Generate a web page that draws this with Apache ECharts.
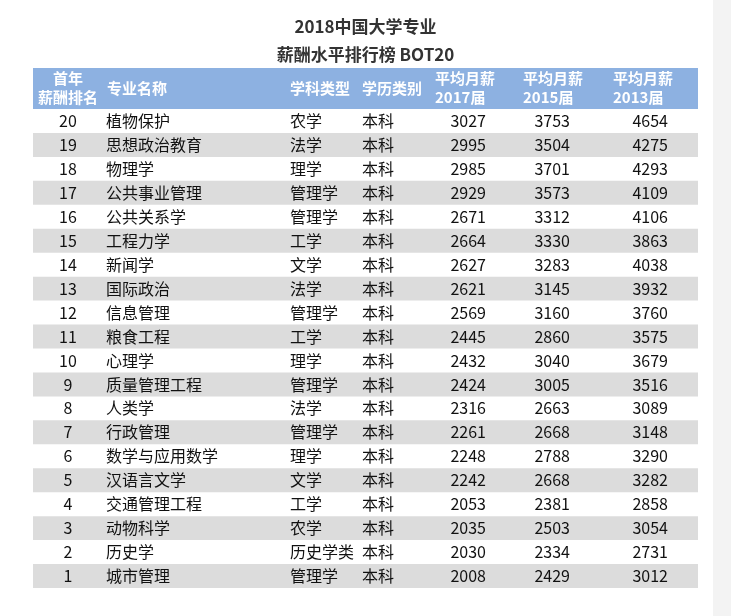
<!DOCTYPE html>
<html><head><meta charset="utf-8">
<script src="https://cdn.jsdelivr.net/npm/echarts@6/dist/echarts.min.js"></script>
<style>html,body{margin:0;padding:0;background:#fff}#c{width:731px;height:616px}</style>
</head><body><div id="c"></div>
<script>
const ranks = [20,19,18,17,16,15,14,13,12,11,10,9,8,7,6,5,4,3,2,1];
const majors = ['植物保护','思想政治教育','物理学','公共事业管理','公共关系学','工程力学','新闻学','国际政治','信息管理','粮食工程','心理学','质量管理工程','人类学','行政管理','数学与应用数学','汉语言文学','交通管理工程','动物科学','历史学','城市管理'];
const fields = ['农学','法学','理学','管理学','管理学','工学','文学','法学','管理学','工学','理学','管理学','法学','管理学','理学','文学','工学','农学','历史学类','管理学'];
const degrees = ['本科','本科','本科','本科','本科','本科','本科','本科','本科','本科','本科','本科','本科','本科','本科','本科','本科','本科','本科','本科'];
const pay2017 = [3027,2995,2985,2929,2671,2664,2627,2621,2569,2445,2432,2424,2316,2261,2248,2242,2053,2035,2030,2008];
const pay2015 = [3753,3504,3701,3573,3312,3330,3283,3145,3160,2860,3040,3005,2663,2668,2788,2668,2381,2503,2334,2429];
const pay2013 = [4654,4275,4293,4109,4106,3863,4038,3932,3760,3575,3679,3516,3089,3148,3290,3282,2858,3054,2731,3012];
const headers = ['首年\n薪酬排名','专业名称','学科类型','学历类别','平均月薪\n2017届','平均月薪\n2015届','平均月薪\n2013届'];

const F = '"Noto Sans CJK SC", sans-serif';
const chart = echarts.init(document.getElementById('c'));
const hdrX = [68,107,290,362,435,523,613];
const hdrAlign = ['center','left','left','left','left','left','left'];
chart.setOption({
  animation:false,
  title:{text:'2018中国大学专业\n薪酬水平排行榜 BOT20',left:'center',top:8,
    textStyle:{fontFamily:F,fontSize:17,fontWeight:'bold',color:'#333',lineHeight:28}},
  graphic:[
    {type:'rect',shape:{x:713,y:0,width:18,height:616},style:{fill:'#f3f3f3'},silent:true},
    {type:'rect',shape:{x:33,y:68,width:665,height:41},style:{fill:'#8db1e1'},silent:true},
    ...headers.map((h,i)=>({type:'text',x:hdrX[i],y:88,style:{text:h,fontFamily:F,fontSize:15,fontWeight:'bold',
      fill:'#fff',align:hdrAlign[i],verticalAlign:'middle',lineHeight:19}}))
  ],
  grid:{left:0,right:0,top:109,bottom:28},
  xAxis:{type:'value',min:0,max:731,show:false},
  yAxis:{type:'category',data:ranks.map(String),inverse:true,show:false},
  series:[{type:'custom',data:ranks.map((r,i)=>[0,i]),
    renderItem:function(params,api){
      const i=api.value(1);
      const p=api.coord([0,i]);
      const h=api.size([0,1])[1];
      const y=p[1];
      const ch=[];
      if(i%2===1) ch.push({type:'rect',shape:{x:33,y:y-h/2,width:665,height:h},style:{fill:'#dcdcdc'}});
      const t=(txt,x,al)=>({type:'text',x:x,y:y,style:{text:String(txt),fontFamily:F,fontSize:16,fill:'#111',align:al,verticalAlign:'middle'}});
      ch.push(t(ranks[i],68,'center'),t(majors[i],106,'left'),t(fields[i],290,'left'),t(degrees[i],362,'left'),
        t(pay2017[i],486,'right'),t(pay2015[i],570,'right'),t(pay2013[i],668,'right'));
      return {type:'group',children:ch};
    }}]
});
</script></body></html>
